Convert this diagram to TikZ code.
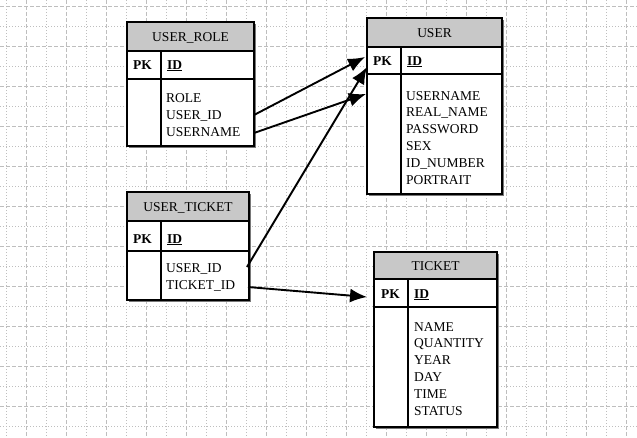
\documentclass[tikz,border=0pt]{standalone}
\usepackage{fontspec}
\setmainfont{Liberation Serif}
\newfontfamily\erfont{Liberation Serif}
\usetikzlibrary{arrows.meta}
\definecolor{gridgrey}{RGB}{190,190,190}
\definecolor{headgrey}{RGB}{200,200,200}
\definecolor{shadegrey}{RGB}{120,120,120}
\tikzset{
  gridline/.style={draw=gridgrey,line width=0.9pt},
  frame/.style={draw=black,line width=1.3pt},
  boxshade/.style={fill=shadegrey},
  title/.style={anchor=base,inner sep=0pt,font=\erfont\fontsize{13.5}{16}\selectfont},
  keytext/.style={anchor=base west,inner sep=0pt,font=\erfont\fontsize{13.5}{16}\selectfont\bfseries},
  attr/.style={anchor=base west,inner sep=0pt,font=\erfont\fontsize{13.5}{16}\selectfont},
  rel/.style={line width=1.9pt,-{Latex[length=17pt,width=14pt]}}
}

\begin{document}
\begin{tikzpicture}[x=1pt,y=-1pt]
\useasboundingbox[fill=white] (0,0) rectangle (637,437);

% background grid
\foreach \x in {6,46,...,606} \draw[gridline,dash pattern=on 1pt off 2pt] (\x,0) -- (\x,437);
\foreach \x in {26,66,...,626} \draw[gridline,dash pattern=on 4pt off 2pt] (\x,0) -- (\x,437);
\foreach \y in {6,46,...,406} \draw[gridline,dash pattern=on 4pt off 2pt] (0,\y) -- (637,\y);
\foreach \y in {26,66,...,426} \draw[gridline,dash pattern=on 1pt off 2pt] (0,\y) -- (637,\y);

% USER_ROLE
\fill[boxshade] (128.5,23.5) rectangle (255.5,147.5);
\draw[frame,fill=headgrey] (127,22) rectangle (254,51);
\draw[frame,fill=white] (127,51) rectangle (254,146);
\draw[frame] (127,79) -- (254,79) (161,51) -- (161,146);
\node[title] (ur-title) at (190.5,41) {USER\_ROLE};
\node[keytext] (ur-pk) at (133,69) {PK};
\node[keytext] (ur-id) at (167,69) {\underline{ID}};
\foreach \t [count=\i] in {ROLE,USER\_ID,USERNAME}
  \node[attr] (ur-a\i) at (166,85+17*\i) {\t};

% USER
\fill[boxshade] (368.5,19.5) rectangle (503.5,195.5);
\draw[frame,fill=headgrey] (367,18) rectangle (502,47);
\draw[frame,fill=white] (367,47) rectangle (502,194);
\draw[frame] (367,74) -- (502,74) (401,47) -- (401,194);
\node[title] (u-title) at (434.5,37) {USER};
\node[keytext] (u-pk) at (373,65) {PK};
\node[keytext] (u-id) at (407,65) {\underline{ID}};
\foreach \t [count=\i] in {USERNAME,REAL\_NAME,PASSWORD,SEX,ID\_NUMBER,PORTRAIT}
  \node[attr] (u-a\i) at (406,83.2+16.8*\i) {\t};

% USER_TICKET
\fill[boxshade] (128.5,193.5) rectangle (250.5,301.5);
\draw[frame,fill=headgrey] (127,192) rectangle (249,221);
\draw[frame,fill=white] (127,221) rectangle (249,300);
\draw[frame] (127,251) -- (249,251) (161,221) -- (161,300);
\node[title] (ut-title) at (188,211) {USER\_TICKET};
\node[keytext] (ut-pk) at (133,243) {PK};
\node[keytext] (ut-id) at (167,243) {\underline{ID}};
\foreach \t [count=\i] in {USER\_ID,TICKET\_ID}
  \node[attr] (ut-a\i) at (166,255+17*\i) {\t};

% TICKET
\fill[boxshade] (375.5,253.5) rectangle (498.5,428.5);
\draw[frame,fill=headgrey] (374,252) rectangle (497,279);
\draw[frame,fill=white] (374,279) rectangle (497,427);
\draw[frame] (374,307) -- (497,307) (408,279) -- (408,427);
\node[title] (t-title) at (435.5,270) {TICKET};
\node[keytext] (t-pk) at (381,298) {PK};
\node[keytext] (t-id) at (414,298) {\underline{ID}};
\foreach \t [count=\i] in {NAME,QUANTITY,YEAR,DAY,TIME,STATUS}
  \node[attr] (t-a\i) at (414,314.2+16.8*\i) {\t};

% relations
\coordinate (ur-out1) at (254,115);
\coordinate (ur-out2) at (254,133);
\coordinate (ut-out1) at (247,267);
\coordinate (ut-out2) at (248,287);
\coordinate (u-in1) at (365,57);
\coordinate (u-in2) at (366,94);
\coordinate (u-in3) at (367,67);
\coordinate (t-in) at (367,297);
\draw[rel] (ur-out1) -- (u-in1);
\draw[rel] (ur-out2) -- (u-in2);
\draw[rel] (ut-out1) -- (u-in3);
\draw[rel] (ut-out2) -- (t-in);
\end{tikzpicture}
\end{document}
